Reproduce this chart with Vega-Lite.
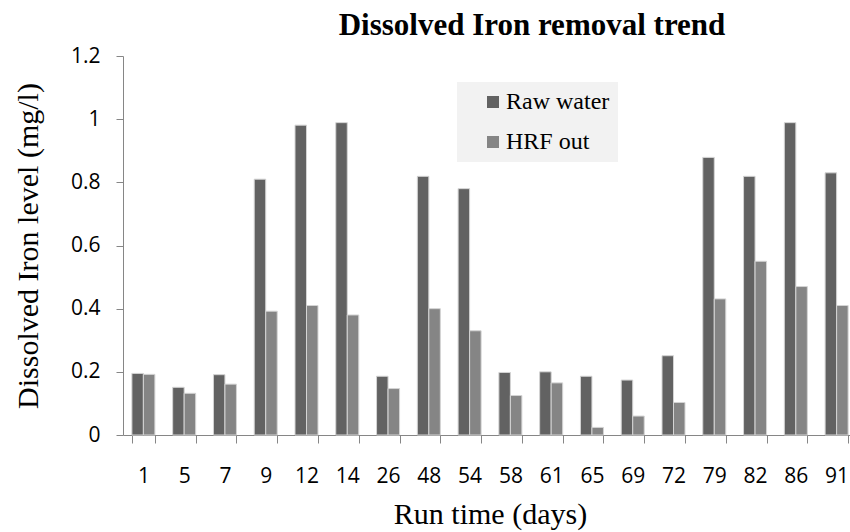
{
  "$schema": "https://vega.github.io/schema/vega-lite/v6.json",
  "width": 734,
  "height": 379,
  "autosize": {"type": "none"},
  "padding": {"left": 123, "top": 56, "right": 0, "bottom": 97},
  "background": "white",
  "title": {
    "text": "Dissolved Iron removal trend",
    "font": "Liberation Serif",
    "fontSize": 31,
    "fontWeight": "bold",
    "color": "black",
    "anchor": "middle",
    "dx": 42,
    "offset": 3
  },
  "data": {
    "values": [
      {"day": "1", "series": "Raw water", "value": 0.195},
      {"day": "1", "series": "HRF out", "value": 0.192},
      {"day": "5", "series": "Raw water", "value": 0.151},
      {"day": "5", "series": "HRF out", "value": 0.132},
      {"day": "7", "series": "Raw water", "value": 0.191},
      {"day": "7", "series": "HRF out", "value": 0.161},
      {"day": "9", "series": "Raw water", "value": 0.81},
      {"day": "9", "series": "HRF out", "value": 0.392},
      {"day": "12", "series": "Raw water", "value": 0.981},
      {"day": "12", "series": "HRF out", "value": 0.41},
      {"day": "14", "series": "Raw water", "value": 0.989},
      {"day": "14", "series": "HRF out", "value": 0.38},
      {"day": "26", "series": "Raw water", "value": 0.186},
      {"day": "26", "series": "HRF out", "value": 0.147},
      {"day": "48", "series": "Raw water", "value": 0.819},
      {"day": "48", "series": "HRF out", "value": 0.4},
      {"day": "54", "series": "Raw water", "value": 0.78},
      {"day": "54", "series": "HRF out", "value": 0.33},
      {"day": "58", "series": "Raw water", "value": 0.198},
      {"day": "58", "series": "HRF out", "value": 0.125},
      {"day": "61", "series": "Raw water", "value": 0.2},
      {"day": "61", "series": "HRF out", "value": 0.165},
      {"day": "65", "series": "Raw water", "value": 0.186},
      {"day": "65", "series": "HRF out", "value": 0.024},
      {"day": "69", "series": "Raw water", "value": 0.174},
      {"day": "69", "series": "HRF out", "value": 0.06},
      {"day": "72", "series": "Raw water", "value": 0.251},
      {"day": "72", "series": "HRF out", "value": 0.103},
      {"day": "79", "series": "Raw water", "value": 0.879},
      {"day": "79", "series": "HRF out", "value": 0.431},
      {"day": "82", "series": "Raw water", "value": 0.819},
      {"day": "82", "series": "HRF out", "value": 0.55},
      {"day": "86", "series": "Raw water", "value": 0.989},
      {"day": "86", "series": "HRF out", "value": 0.47},
      {"day": "91", "series": "Raw water", "value": 0.83},
      {"day": "91", "series": "HRF out", "value": 0.41}
    ]
  },
  "mark": {"type": "bar", "stroke": "#d4d4d4", "strokeWidth": 1},
  "encoding": {
    "x": {
      "field": "day",
      "type": "ordinal",
      "sort": null,
      "scale": {"paddingInner": 0.436, "paddingOuter": 0.218},
      "axis": {
        "title": "Run time (days)",
        "labelAngle": 0,
        "tickBand": "extent",
        "tickSize": 8,
        "labelPadding": 22,
        "titlePadding": 13
      }
    },
    "xOffset": {"field": "series", "type": "nominal", "sort": ["Raw water", "HRF out"]},
    "y": {
      "field": "value",
      "type": "quantitative",
      "scale": {"domain": [0, 1.2], "nice": false},
      "axis": {
        "title": "Dissolved Iron level (mg/l)",
        "values": [0, 0.2, 0.4, 0.6, 0.8, 1, 1.2],
        "format": "~g",
        "tickSize": 7,
        "labelPadding": 16,
        "titlePadding": 27
      }
    },
    "color": {
      "field": "series",
      "type": "nominal",
      "scale": {"domain": ["Raw water", "HRF out"], "range": ["#626262", "#858585"]},
      "legend": {
        "title": null,
        "orient": "none",
        "legendX": 334,
        "legendY": 26,
        "fillColor": "#f2f2f2",
        "padding": 8,
        "symbolOffset": 16,
        "symbolType": "square",
        "symbolSize": 144,
        "symbolStrokeWidth": 0,
        "labelFont": "Liberation Serif",
        "labelFontSize": 24,
        "labelColor": "black",
        "labelOffset": 1,
        "rowPadding": 16
      }
    }
  },
  "config": {
    "view": {"stroke": null},
    "axis": {
      "grid": false,
      "domainColor": "#868686",
      "tickColor": "#868686",
      "labelFont": "Open Sans",
      "labelFontSize": 21,
      "labelColor": "black",
      "titleFont": "Liberation Serif",
      "titleFontSize": 30,
      "titleFontWeight": "normal",
      "titleColor": "black"
    }
  }
}
